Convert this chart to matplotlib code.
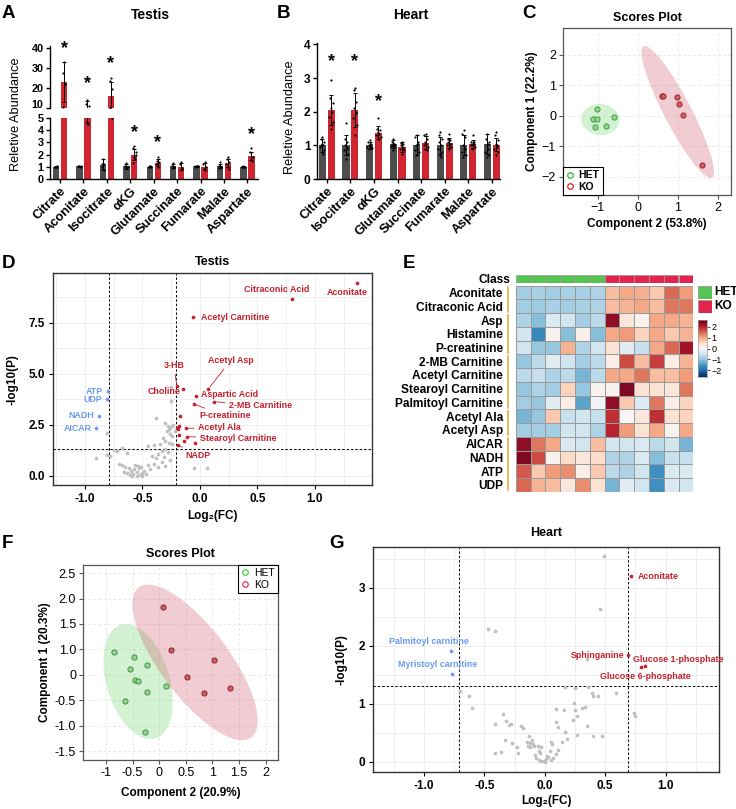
import numpy as np
import matplotlib
matplotlib.use('Agg')
import matplotlib.pyplot as plt
import matplotlib.transforms as mtrans
from matplotlib.patches import Ellipse, Rectangle
from matplotlib.lines import Line2D
from matplotlib.ticker import MultipleLocator

plt.rcParams['font.family'] = ['Liberation Sans', 'DejaVu Sans']

# ---------------- DATA ----------------
# Panel A (Testis bars)
a_cats = ['Citrate', 'Aconitate', 'Isocitrate', 'αKG', 'Glutamate', 'Succinate', 'Fumarate', 'Malate', 'Aspartate']
a_het_mean = [1.0, 1.05, 1.15, 1.05, 1.0, 1.05, 1.05, 1.05, 1.0]
a_het_err = [0.05, 0.05, 0.45, 0.2, 0.05, 0.15, 0.05, 0.15, 0.05]
a_ko_mean = [23.0, 9.2, 16.0, 2.0, 1.35, 1.0, 1.0, 1.3, 1.9]
a_ko_err = [10.0, 4.5, 7.0, 0.45, 0.25, 0.3, 0.3, 0.35, 0.35]
a_het_pts = [[0.95, 1.0, 1.05, 1.0, 0.98], [1.0, 1.1, 1.05, 1.05, 1.0], [1.6, 1.2, 0.7, 1.0, 1.2],
             [1.3, 1.1, 1.0, 0.9, 0.95], [1.05, 1.0, 0.95, 1.0, 1.05], [1.3, 1.1, 1.0, 0.9, 1.0],
             [1.1, 1.1, 1.05, 1.0, 1.05], [1.4, 1.1, 1.0, 0.9, 0.95], [1.1, 1.0, 0.95, 1.0, 1.0]]
a_ko_pts = [[33, 27.5, 22, 10.5, 22], [14, 12, 11, 4.6, 4.5], [25, 23.5, 19.5, 10, 5],
            [2.7, 2.5, 2.2, 1.8, 1.6, 1.3, 2.0], [1.8, 1.5, 1.4, 1.2, 1.0, 1.2], [1.4, 1.2, 0.9, 0.7, 0.8],
            [1.4, 1.2, 1.0, 0.8, 0.7], [1.8, 1.6, 1.4, 1.0, 0.8, 1.2], [2.5, 2.2, 1.8, 1.6, 1.5]]
a_star = [39.5, 22, 32, 3.8, 3.0, None, None, None, 3.6]

# Panel B (Heart bars)
b_cats = ['Citrate', 'Isocitrate', 'αKG', 'Glutamate', 'Succinate', 'Fumarate', 'Malate', 'Aspartate']
b_het_mean = [1.0, 1.0, 1.0, 1.03, 1.0, 1.0, 1.0, 1.03]
b_het_err = [0.2, 0.3, 0.1, 0.12, 0.3, 0.25, 0.3, 0.3]
b_ko_mean = [2.05, 2.05, 1.38, 0.95, 1.08, 1.08, 1.05, 1.02]
b_ko_err = [0.45, 0.5, 0.18, 0.15, 0.2, 0.15, 0.12, 0.2]
b_het_pts = [[1.25, 1.2, 1.1, 1.05, 1.0, 0.95, 0.85, 0.8, 0.75, 1.0],
             [1.65, 1.2, 1.1, 1.0, 0.9, 0.85, 0.75, 0.6, 0.95],
             [1.15, 1.1, 1.05, 1.0, 0.98, 0.95, 0.93, 0.9, 0.95],
             [1.18, 1.1, 1.05, 1.02, 1.0, 0.98, 0.95, 0.85, 1.05],
             [1.3, 1.25, 1.1, 1.0, 0.9, 0.85, 0.8, 0.7, 1.05],
             [1.4, 1.3, 1.2, 1.1, 1.0, 0.9, 0.8, 0.7, 0.65],
             [1.45, 1.35, 1.25, 1.0, 0.9, 0.8, 0.7, 0.65, 0.9],
             [1.35, 1.2, 1.1, 1.0, 0.9, 0.8, 0.7, 0.65, 1.05]]
b_ko_pts = [[2.95, 2.4, 2.25, 2.1, 2.0, 1.85, 1.7, 1.5, 1.6],
            [2.7, 2.65, 2.3, 2.1, 2.0, 1.8, 1.6, 1.3, 1.95],
            [1.8, 1.5, 1.45, 1.4, 1.35, 1.3, 1.25, 1.2, 1.2],
            [1.1, 1.08, 1.05, 1.0, 0.95, 0.9, 0.85, 0.75, 0.9],
            [1.35, 1.3, 1.2, 1.1, 1.05, 1.0, 0.95, 0.9, 0.85],
            [1.35, 1.2, 1.15, 1.1, 1.05, 1.0, 0.95, 0.9, 1.05],
            [1.3, 1.1, 1.05, 1.05, 1.0, 1.0, 0.95, 0.9, 1.1],
            [1.4, 1.3, 1.15, 1.05, 1.0, 0.9, 0.8, 0.7, 0.95]]
b_star = [3.5, 3.5, 2.3, None, None, None, None, None]

# Panel C (scores, testis)
c_het_x = [-1.02, -1.12, -1.03, -1.07, -0.80, -0.61]
c_het_y = [0.22, -0.11, -0.09, -0.36, -0.32, -0.05]
c_ko_x = [0.61, 0.62, 0.97, 1.03, 1.14, 1.61]
c_ko_y = [0.66, 0.66, 0.62, 0.40, 0.04, -1.61]

# Panel D (volcano, testis)
d_red_names = ['Aconitate', 'Citraconic Acid', 'Acetyl Carnitine', '3-HB', 'Choline', 'Aspartic Acid',
               'Acetyl Asp', '2-MB Carnitine', 'P-creatinine', 'Acetyl Ala', 'Stearoyl Carnitine', 'NADP',
               '', '', '', '', '', '', '']
d_red_x = [1.37, 0.80, -0.06, -0.20, -0.145, -0.035, 0.072, 0.124, -0.052, -0.124, -0.116, -0.19,
           -0.17, -0.18, -0.20, -0.19, -0.18, -0.135, -0.04]
d_red_y = [9.43, 8.68, 7.76, 4.38, 4.25, 3.92, 4.24, 3.63, 3.51, 2.32, 1.91, 1.50,
           2.93, 2.44, 2.35, 2.30, 2.00, 1.72, 1.62]
d_blue_names = ['ATP', 'UDP', 'NADH', 'AICAR']
d_blue_x = [-0.80, -0.81, -0.88, -0.90]
d_blue_y = [4.14, 3.74, 2.94, 2.32]
d_gray_x = [-0.25, -0.25, -0.38, -0.30, -0.28, -0.27, -0.29, -0.25, -0.23, -0.22, -0.26, -0.24, -0.32,
            -0.30, -0.27, -0.24, -0.35, -0.40, -0.45, -0.30, -0.33, -0.28, -0.36, -0.42, -0.38, -0.31,
            -0.26, -0.33, -0.40, -0.45, -0.36, -0.30, -0.43, -0.50, -0.52, -0.55, -0.58, -0.60, -0.62,
            -0.57, -0.53, -0.49, -0.65, -0.68, -0.55, -0.59, -0.47, -0.63, -0.70, -0.66, -0.61, -0.54,
            -0.51, -0.56, -0.50, -0.81, -0.90, -0.81, -0.75, -0.68, -0.72, -0.78, -0.63, -0.05, 0.06]
d_gray_y = [4.36, 3.68, 2.81, 2.60, 2.45, 2.30, 2.20, 2.40, 2.50, 2.20, 2.05, 1.95, 1.85,
            1.70, 1.60, 1.55, 1.55, 1.50, 1.45, 1.30, 1.20, 1.15, 1.05, 0.95, 0.85, 0.90,
            0.75, 0.65, 0.55, 0.50, 0.40, 0.45, 0.30, 0.15, 0.05, 0.20, 0.10, 0.25, 0.35,
            0.30, 0.35, 0.25, 0.40, 0.50, 0.00, 0.00, 0.10, 0.15, 0.55, 0.20, 0.05, 0.45,
            0.40, 0.50, 0.00, 2.08, 0.85, 1.01, 1.26, 1.34, 1.20, 0.95, 1.10, 0.39, 0.39]

# Panel E (heatmap)
e_rows = ['Aconitate', 'Citraconic Acid', 'Asp', 'Histamine', 'P-creatinine', '2-MB Carnitine',
          'Acetyl Carnitine', 'Stearoyl Carnitine', 'Palmitoyl Carnitine', 'Acetyl Ala', 'Acetyl Asp',
          'AICAR', 'NADH', 'ATP', 'UDP']
e_groups = [2, 3, 4, 2, 4]
e_class = ['HET'] * 6 + ['KO'] * 6
e_z = [[-0.9, -0.85, -0.9, -0.85, -0.85, -0.8, 0.8, 1.0, 0.95, 0.7, 1.5, 1.1],
       [-0.9, -0.95, -0.85, -0.9, -0.85, -0.8, 0.8, 0.9, 1.0, 0.8, 1.4, 1.4],
       [-0.8, -1.1, -0.4, -0.5, -0.9, -0.7, 2.3, 0.3, 0.1, 1.0, 1.0, 0.9],
       [-0.5, -1.7, 0.1, -1.1, 0.15, -1.1, 1.0, 1.1, 0.6, 1.0, 0.7, 0.9],
       [-0.5, -1.0, -1.0, 0.9, -0.8, -0.5, 0.4, -0.3, -0.6, 1.0, 1.5, 2.2],
       [-1.0, -0.7, -0.3, -0.5, -0.9, -0.7, 0.2, 1.7, 0.8, 1.8, 0.2, 0.9],
       [-0.7, -0.6, -0.8, -0.7, -1.2, -0.7, 1.0, 1.0, 1.4, 0.8, 0.8, 1.1],
       [-1.0, -0.8, -0.9, 0.6, -1.0, 0.1, 0.1, 2.4, 0.4, 0.4, 0.3, 1.4],
       [-0.9, -1.0, -0.3, 0.2, -1.4, -0.1, 2.3, 0.7, -0.4, 1.4, 0.2, 0.6],
       [-1.2, -1.0, 0.7, -0.6, -0.5, -0.6, 1.9, 0.0, 0.3, 1.9, 0.4, 0.6],
       [-0.9, -0.9, -0.9, -0.5, -0.5, -0.8, 2.0, 1.1, 0.4, 1.0, 0.1, 1.0],
       [2.3, 1.4, 1.0, -0.4, -0.5, 0.8, -0.5, -0.5, -0.4, -0.7, -0.5, -1.2],
       [2.4, 1.7, 0.1, 0.5, 0.3, 0.5, -0.8, -0.8, -0.4, -1.1, -0.6, -0.6],
       [1.6, 0.7, 1.1, 1.2, 0.2, 0.7, -0.7, -0.8, -0.5, -1.6, -0.4, -0.4],
       [1.5, 0.9, 0.8, 0.3, 1.2, 0.4, -1.2, -0.3, -0.5, -1.6, -0.4, -0.5]]

# Panel F (scores, heart)
f_het_x = [-0.85, -0.47, -0.55, -0.22, -0.45, -0.39, 0.12, -0.23, -0.64, -0.27]
f_het_y = [0.945, 0.85, 0.61, 0.695, 0.40, 0.38, 0.28, 0.16, -0.02, -0.63]
f_ko_x = [0.08, 0.23, 1.03, 0.53, 0.84, 1.33]
f_ko_y = [1.84, 0.99, 0.79, 0.46, 0.14, 0.25]
f_xticklabels = ['-1', '-0.5', '0', '0.5', '1', '1.5', '2']
f_yticklabels = ['2.5', '2.0', '1.5', '1.0', '0', '-0.5', '-1.0', '-1.5']

# Panel G (volcano, heart)
g_red_names = ['Aconitate', 'Sphinganine', 'Glucose 1-phosphate', 'Glucose 6-phosphate']
g_red_x = [0.71, 0.69, 0.83, 0.80]
g_red_y = [3.20, 1.84, 1.66, 1.63]
g_blue_names = ['Palmitoyl carnitine', 'Myristoyl carnitine']
g_blue_x = [-0.78, -0.77]
g_blue_y = [1.91, 1.52]
g_gray_x = [0.49, 0.46, -0.47, -0.41, 0.35, 0.17, 0.25, 0.36, 0.39, 0.40, 0.44, 0.59, 0.24, 0.09, 0.16,
            0.25, 0.31, 0.33, 0.27, 0.23, 0.74, 0.75, 0.09, 0.11, 0.35, 0.17, 0.27, 0.47, 0.40, 0.18,
            0.14, 0.05, 0.06, 0.11, -0.35, -0.41, -0.32, -0.30, -0.28, -0.20, -0.18, -0.13, -0.33,
            -0.27, -0.23, -0.15, -0.14, -0.12, -0.11, -0.10, -0.12, -0.09, -0.41, -0.36, -0.22, -0.06,
            -0.05, -0.04, -0.03, -0.07, -0.05, -0.03, -0.01, 0.01, 0.03, 0.05, 0.07, 0.00, 0.02, -0.08,
            -0.70, -0.63, -0.60, 0.09, 0.04]
g_gray_y = [3.55, 2.63, 2.29, 2.25, 1.78, 1.29, 1.28, 1.29, 1.19, 1.14, 1.13, 1.18, 1.02, 0.91, 0.90,
            0.90, 0.93, 0.94, 0.79, 0.72, 0.85, 0.79, 0.69, 0.60, 0.62, 0.52, 0.47, 0.45, 0.44, 0.40,
            0.35, 0.35, 0.30, 0.20, 0.83, 0.66, 0.70, 0.64, 0.66, 0.62, 0.58, 0.44, 0.37,
            0.32, 0.25, 0.35, 0.28, 0.32, 0.38, 0.30, 0.25, 0.27, 0.16, 0.17, 0.16, 0.28,
            0.18, 0.15, 0.26, 0.06, 0.03, 0.01, 0.02, 0.05, 0.08, 0.04, 0.06, 0.00, 0.10, 0.12,
            1.22, 1.14, 0.92, 0.13, 0.18]

# ---------------- STYLE / LAYOUT ----------------
W, H = 736, 809
HET_C, KO_C = '#4d4d4d', '#d1262f'
RED, BLUE, GRAY = '#c4212d', '#6a9bf0', '#c0c0c0'
fig = plt.figure(figsize=(W / 100, H / 100), dpi=100)


def ax_px(l, t, r, b):
    return fig.add_axes([l / W, 1 - b / H, (r - l) / W, (b - t) / H])


def fig_text(x, y, s, **kw):
    fig.text(x / W, 1 - y / H, s, **kw)


for letter, (lx, ly) in zip('ABCDEFG', [(2, 13), (277, 13), (522, 13), (2, 264), (403, 264), (2, 543), (329, 543)]):
    fig_text(lx, ly, letter, fontsize=13.5, fontweight='bold', va='center', ha='left')

JIT = np.array([0, -0.6, 0.6, -0.3, 0.3, -0.9, 0.9, -0.15, 0.45, -0.45])


def draw_bars(ax, het_m, het_e, ko_m, ko_e, het_p, ko_p, off, w):
    x = np.arange(len(het_m))
    ax.bar(x - off, het_m, w, color=HET_C, zorder=2)
    ax.bar(x + off, ko_m, w, color=KO_C, zorder=2)
    for xs, m, e in ((x - off, het_m, het_e), (x + off, ko_m, ko_e)):
        ax.errorbar(xs, m, yerr=e, fmt='none', ecolor='black', elinewidth=0.7,
                    capsize=1.6, capthick=0.7, zorder=4)
    for i in range(len(x)):
        for pts, xc in ((het_p[i], x[i] - off), (ko_p[i], x[i] + off)):
            j = np.resize(JIT, len(pts)) * w * 0.32
            ax.scatter(xc + j, pts, s=2.5, color='black', lw=0, zorder=5)


def style_bar_axis(ax):
    for s in ('top', 'right'):
        ax.spines[s].set_visible(False)
    for s in ('left', 'bottom'):
        ax.spines[s].set_linewidth(1.0)
    ax.tick_params(axis='y', length=3, width=1.0, labelsize=7.8, pad=1.5)
    ax.tick_params(axis='x', length=3, width=1.0, pad=1.5)
    for lab in ax.get_yticklabels():
        lab.set_fontweight('bold')


# ---- Panel A ----
offA, wA = 0.17, 0.27
xlimA = (-0.43, 8.45)
axAt = ax_px(50, 45.7, 258, 108)
axAb = ax_px(50, 118, 258, 179)
for ax in (axAt, axAb):
    draw_bars(ax, a_het_mean, a_het_err, a_ko_mean, a_ko_err, a_het_pts, a_ko_pts, offA, wA)
    ax.set_xlim(*xlimA)
axAt.set_ylim(10, 41)
axAt.set_yticks([10, 20, 30, 40])
axAb.set_ylim(0, 5)
axAb.set_yticks([0, 1, 2, 3, 4, 5])
style_bar_axis(axAt)
style_bar_axis(axAb)
axAt.spines['bottom'].set_visible(False)
axAt.set_xticks([])
# nudge the label at the axis break up slightly so it clears the '5'
lab10 = axAt.get_yticklabels()[0]
lab10.set_transform(lab10.get_transform() + mtrans.ScaledTranslation(0, 3.5 / 100, fig.dpi_scale_trans))
axAb.set_xticks(np.arange(len(a_cats)))
axAb.set_xticklabels(a_cats, rotation=45, ha='right', rotation_mode='anchor', fontweight='bold', fontsize=9.3)
for i, s in enumerate(a_star):
    if s is None:
        continue
    ax = axAt if s > 5 else axAb
    ax.text(i + offA, s, '*', ha='center', va='center', fontsize=13, fontweight='bold', zorder=6)
fig_text(150, 15, 'Testis', fontsize=10, fontweight='bold', ha='center', va='center')
fig_text(16, 114, 'Reletive Abundance', fontsize=9.2, rotation=90, ha='center', va='center')

# ---- Panel B ----
offB, wB = 0.19, 0.3
axB = ax_px(317, 42.7, 500, 179)
draw_bars(axB, b_het_mean, b_het_err, b_ko_mean, b_ko_err, b_het_pts, b_ko_pts, offB, wB)
axB.set_xlim(-0.42, 7.35)
axB.set_ylim(0, 4.05)
axB.set_yticks([0, 1, 2, 3, 4])
style_bar_axis(axB)
axB.tick_params(axis='y', labelsize=8.6)
axB.set_xticks(np.arange(len(b_cats)))
axB.set_xticklabels(b_cats, rotation=45, ha='right', rotation_mode='anchor', fontweight='bold', fontsize=9.3)
for i, s in enumerate(b_star):
    if s is not None:
        axB.text(i + offB, s, '*', ha='center', va='center', fontsize=13, fontweight='bold', zorder=6)
fig_text(411, 15, 'Heart', fontsize=10, fontweight='bold', ha='center', va='center')
fig_text(290, 117, 'Reletive Abundance', fontsize=9.2, rotation=90, ha='center', va='center')


# ---- score plot helpers ----
def conf_ellipse(ax, xs, ys, color):
    xs, ys = np.asarray(xs), np.asarray(ys)
    cov = np.cov(xs, ys)
    vals, vecs = np.linalg.eigh(cov)
    order = vals.argsort()[::-1]
    vals, vecs = vals[order], vecs[:, order]
    ang = np.degrees(np.arctan2(vecs[1, 0], vecs[0, 0]))
    k = np.sqrt(5.991)
    ax.add_patch(Ellipse((xs.mean(), ys.mean()), 2 * k * np.sqrt(vals[0]), 2 * k * np.sqrt(vals[1]),
                         angle=ang, facecolor=color, edgecolor='none', zorder=1))


def style_score(ax):
    for s in ax.spines.values():
        s.set_color('#555555')
        s.set_linewidth(0.9)
    ax.grid(True, ls=(0, (3, 3)), color='#e2e2e2', lw=0.6)
    ax.set_axisbelow(True)
    ax.tick_params(length=3, width=0.8, labelsize=9, color='#555555', pad=2)


GREEN_FILL = (0.45, 0.85, 0.45, 0.32)
RED_FILL = (0.82, 0.35, 0.42, 0.30)

# ---- Panel C ----
axC = ax_px(563, 28, 731, 195)
style_score(axC)
conf_ellipse(axC, c_het_x, c_het_y, GREEN_FILL)
conf_ellipse(axC, c_ko_x, c_ko_y, RED_FILL)
axC.scatter(c_het_x, c_het_y, s=14, facecolor='#8fd98f', edgecolor='#3d8a3d', lw=0.6, zorder=3)
axC.scatter(c_ko_x, c_ko_y, s=14, facecolor='#e0585f', edgecolor='#7a2025', lw=0.6, zorder=3)
axC.set_xlim(-1.875, 2.33)
axC.set_ylim(-2.59, 2.88)
axC.set_xticks([-1, 0, 1, 2])
axC.set_yticks([-2, -1, 0, 1, 2])
axC.set_title('Scores Plot', fontsize=9, fontweight='bold', pad=5)
axC.set_xlabel('Component 2 (53.8%)', fontsize=8.5, fontweight='bold', labelpad=3)
axC.set_ylabel('Component 1 (22.2%)', fontsize=8.5, fontweight='bold', labelpad=3)
hC = [Line2D([], [], ls='none', marker='o', mfc='none', mec='#33bb33', ms=4, mew=0.9),
      Line2D([], [], ls='none', marker='o', mfc='none', mec='#e02020', ms=4, mew=0.9)]
legC = axC.legend(hC, ['HET', 'KO'], loc='lower left', borderaxespad=0, fancybox=False,
                  prop={'size': 7.5, 'weight': 'bold'}, handlelength=0.8, handletextpad=0.4,
                  borderpad=0.3, labelspacing=0.15, edgecolor='black', framealpha=1)
legC.get_frame().set_linewidth(0.8)


# ---- volcano helper ----
def style_volcano(ax):
    for s in ax.spines.values():
        s.set_color('#333333')
        s.set_linewidth(1.0)
    ax.grid(True, which='both', color='#ebebeb', lw=0.6)
    ax.set_axisbelow(True)
    ax.tick_params(which='major', length=3, width=0.8, labelsize=8.5, pad=3)
    ax.tick_params(which='minor', length=0)
    for lab in ax.get_xticklabels() + ax.get_yticklabels():
        lab.set_fontweight('bold')


# ---- Panel D ----
axD = ax_px(53.3, 273.3, 372.3, 485)
axD.scatter(d_gray_x, d_gray_y, s=7, color=GRAY, lw=0, zorder=2)
axD.scatter(d_blue_x, d_blue_y, s=7, color=BLUE, lw=0, zorder=3)
axD.scatter(d_red_x, d_red_y, s=7, color=RED, lw=0, zorder=3)
axD.axvline(-0.79, color='black', ls=(0, (2.5, 2)), lw=0.7, zorder=1)
axD.axvline(-0.21, color='black', ls=(0, (2.5, 2)), lw=0.7, zorder=1)
axD.axhline(1.3, color='black', ls=(0, (2.5, 2)), lw=0.7, zorder=1)
axD.set_xlim(-1.275, 1.50)
axD.set_ylim(-0.46, 9.92)
axD.set_xticks([-1.0, -0.5, 0.0, 0.5, 1.0])
axD.set_xticklabels(['-1.0', '-0.5', '0.0', '0.5', '1.0'])
axD.set_yticks([0.0, 2.5, 5.0, 7.5])
axD.set_yticklabels(['0.0', '2.5', '5.0', '7.5'])
axD.xaxis.set_minor_locator(MultipleLocator(0.25))
axD.yaxis.set_minor_locator(MultipleLocator(1.25))
style_volcano(axD)
axD.set_title('Testis', fontsize=9, fontweight='bold', pad=6)
axD.set_xlabel('Log₂(FC)', fontsize=8.5, fontweight='bold', labelpad=3)
axD.set_ylabel('-log10(P)', fontsize=8.5, fontweight='bold', labelpad=7)
d_lab = {'Aconitate': (1.28, 8.99, 'center', False),
         'Citraconic Acid': (0.667, 9.14, 'center', False),
         'Acetyl Carnitine': (0.01, 7.75, 'left', False),
         '3-HB': (-0.226, 5.39, 'center', True),
         'Choline': (-0.17, 4.12, 'right', False),
         'Aspartic Acid': (0.01, 3.96, 'left', False),
         'Acetyl Asp': (0.267, 5.64, 'center', True),
         '2-MB Carnitine': (0.255, 3.43, 'left', True),
         'P-creatinine': (-0.006, 2.93, 'left', True),
         'Acetyl Ala': (-0.015, 2.34, 'left', True),
         'Stearoyl Carnitine': (0.0, 1.83, 'left', True),
         'NADP': (-0.13, 1.01, 'left', True)}
for n, x, y in zip(d_red_names, d_red_x, d_red_y):
    if not n:
        continue
    tx, ty, ha, lead = d_lab[n]
    ap = dict(arrowstyle='-', color=RED, lw=0.6, shrinkA=1, shrinkB=2) if lead else None
    axD.annotate(n, (x, y), (tx, ty), ha=ha, va='center', color=RED, fontsize=6.4,
                 fontweight='bold', arrowprops=ap, zorder=4)
for n, x, y in zip(d_blue_names, d_blue_x, d_blue_y):
    axD.text(x - 0.04, y, n, ha='right', va='center', color=BLUE, fontsize=6.4, fontweight='bold')

# ---- Panel E ----
cmap = plt.get_cmap('RdBu_r')
axE = ax_px(515.7, 285.7, 693.3, 491.7)
z = np.array(e_z)
axE.pcolormesh(z, cmap=cmap, vmin=-2.6, vmax=2.6, edgecolors='#9a9a9a', linewidth=0.5)
axE.set_xlim(0, z.shape[1])
axE.set_ylim(z.shape[0], 0)
axE.set_xticks([])
axE.set_yticks(np.arange(z.shape[0]) + 0.5)
axE.set_yticklabels(e_rows, fontsize=8.6, fontweight='bold')
axE.tick_params(axis='y', length=0, pad=9)
for s in axE.spines.values():
    s.set_visible(False)
start = 0
for g in e_groups:
    axE.plot([-0.52, -0.52], [start + 0.12, start + g - 0.12], color='#f0a030', lw=1.1, clip_on=False)
    start += g
class_col = {'HET': '#55c455', 'KO': '#e3244f'}
axCl = ax_px(515.7, 275, 693.3, 282.7)
for i, c in enumerate(e_class):
    axCl.add_patch(Rectangle((i, 0), 1, 1, facecolor=class_col[c], edgecolor='#9a9a9a', lw=0.5))
axCl.set_xlim(0, len(e_class))
axCl.set_ylim(0, 1)
axCl.set_xticks([])
axCl.set_yticks([0.5])
axCl.set_yticklabels(['Class'], fontsize=8.6, fontweight='bold')
axCl.tick_params(axis='y', length=0, pad=4)
for s in axCl.spines.values():
    s.set_visible(False)
for k, (lab, top) in enumerate([('HET', 285.7), ('KO', 300)]):
    axL = ax_px(697.7, top, 711.7, top + 13)
    axL.add_patch(Rectangle((0, 0), 1, 1, facecolor=class_col[lab], edgecolor='#9a9a9a', lw=0.6))
    axL.set_xlim(0, 1)
    axL.set_ylim(0, 1)
    axL.axis('off')
    fig_text(714, top + 6.5, lab, fontsize=8.6, fontweight='bold', va='center')
axCB = ax_px(698, 320, 707, 377)
grad = np.linspace(-2.6, 2.6, 100).reshape(-1, 1)
axCB.imshow(grad, cmap=cmap, aspect='auto', origin='lower', extent=[0, 1, -2.6, 2.6], vmin=-2.6, vmax=2.6)
axCB.set_xticks([])
axCB.yaxis.tick_right()
axCB.set_yticks([-2, -1, 0, 1, 2])
axCB.tick_params(axis='y', length=2, width=0.5, labelsize=6.5, pad=1)
for s in axCB.spines.values():
    s.set_color('#9a9a9a')
    s.set_linewidth(0.5)

# ---- Panel F ----
axF = ax_px(83, 565, 278, 760)
style_score(axF)
conf_ellipse(axF, f_het_x, f_het_y, GREEN_FILL)
conf_ellipse(axF, f_ko_x, f_ko_y, RED_FILL)
axF.scatter(f_het_x, f_het_y, s=14, facecolor='#8fd98f', edgecolor='#3d7a3d', lw=0.6, zorder=3)
axF.scatter(f_ko_x, f_ko_y, s=14, facecolor='#e0585f', edgecolor='#6a2025', lw=0.6, zorder=3)
axF.set_xlim(-1.43, 2.23)
axF.set_ylim(-1.175, 2.66)
axF.set_xticks(np.arange(-1, 2.01, 0.5))
axF.set_xticklabels(f_xticklabels)
axF.set_yticks(np.arange(2.5, -1.01, -0.5))
axF.set_yticklabels(f_yticklabels)
axF.set_title('Scores Plot', fontsize=9, fontweight='bold', pad=6)
axF.set_xlabel('Component 2 (20.9%)', fontsize=8.5, fontweight='bold', labelpad=6)
axF.set_ylabel('Component 1 (20.3%)', fontsize=8.5, fontweight='bold', labelpad=3)
hF = [Line2D([], [], ls='none', marker='o', mfc='none', mec='#33cc33', ms=4, mew=0.8),
      Line2D([], [], ls='none', marker='o', mfc='none', mec='#e02050', ms=4, mew=0.8)]
legF = axF.legend(hF, ['HET', 'KO'], loc='upper right', borderaxespad=0, fancybox=False,
                  prop={'size': 7.5}, handlelength=0.8, handletextpad=0.5,
                  borderpad=0.3, labelspacing=0.15, edgecolor='black', framealpha=1)
legF.get_frame().set_linewidth(0.8)

# ---- Panel G ----
axG = ax_px(373.3, 546.7, 718.7, 771.7)
axG.scatter(g_gray_x, g_gray_y, s=7, color=GRAY, lw=0, zorder=2)
axG.scatter(g_blue_x, g_blue_y, s=7, color=BLUE, lw=0, zorder=3)
axG.scatter(g_red_x, g_red_y, s=7, color=RED, lw=0, zorder=3)
axG.axvline(-0.71, color='black', ls=(0, (2.5, 2)), lw=0.7, zorder=1)
axG.axvline(0.69, color='black', ls=(0, (2.5, 2)), lw=0.7, zorder=1)
axG.axhline(1.3, color='black', ls=(0, (2.5, 2)), lw=0.7, zorder=1)
axG.set_xlim(-1.42, 1.44)
axG.set_ylim(-0.17, 3.71)
axG.set_xticks([-1.0, -0.5, 0.0, 0.5, 1.0])
axG.set_xticklabels(['-1.0', '-0.5', '0.0', '0.5', '1.0'])
axG.set_yticks([0, 1, 2, 3])
axG.xaxis.set_minor_locator(MultipleLocator(0.25))
axG.yaxis.set_minor_locator(MultipleLocator(0.5))
style_volcano(axG)
axG.set_title('Heart', fontsize=9, fontweight='bold', pad=8)
axG.set_xlabel('Log₂(FC)', fontsize=8.5, fontweight='bold', labelpad=2)
axG.set_ylabel('-log10(P)', fontsize=8.5, fontweight='bold', labelpad=8)
g_lab = {'Aconitate': (0.767, 3.20, 'left'),
         'Sphinganine': (0.657, 1.84, 'right'),
         'Glucose 1-phosphate': (0.73, 1.77, 'left'),
         'Glucose 6-phosphate': (0.83, 1.48, 'center'),
         'Palmitoyl carnitine': (-0.958, 2.08, 'center'),
         'Myristoyl carnitine': (-0.888, 1.67, 'center')}
for names, xs, ys, col in ((g_red_names, g_red_x, g_red_y, RED), (g_blue_names, g_blue_x, g_blue_y, BLUE)):
    for n, x, y in zip(names, xs, ys):
        tx, ty, ha = g_lab[n]
        axG.text(tx, ty, n, ha=ha, va='center', color=col, fontsize=6.4, fontweight='bold', zorder=4)

fig.savefig('out.png', dpi=100)
